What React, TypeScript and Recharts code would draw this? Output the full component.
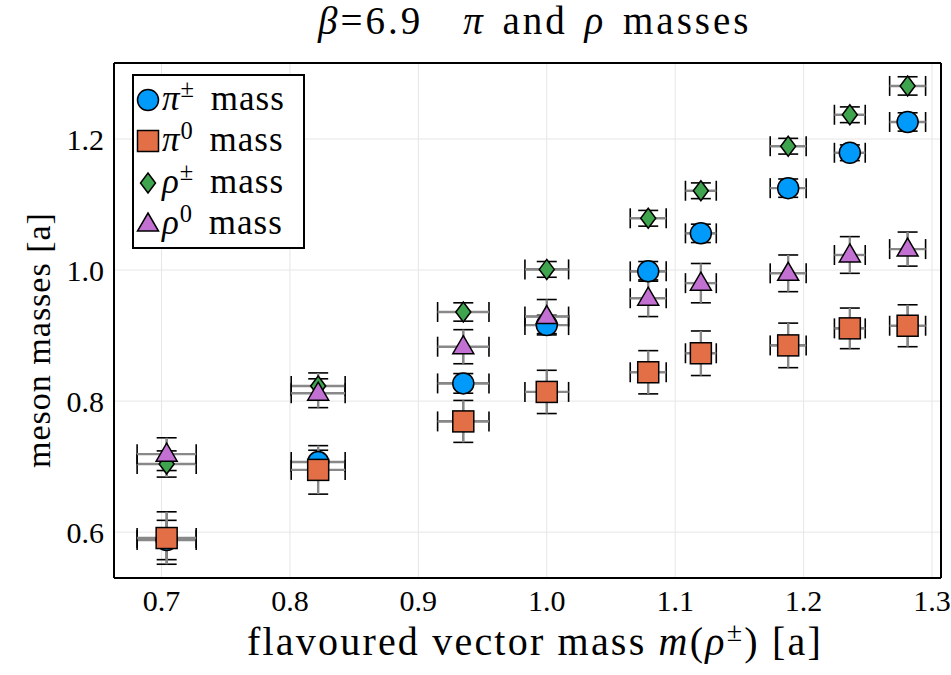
import React from 'react';
import { ScatterChart, Scatter, XAxis, YAxis, CartesianGrid, ErrorBar, Legend } from 'recharts';

// flavoured vector mass m(rho±) for each ensemble, with its uncertainty
const vectorMass = [0.704, 0.822, 0.935, 1.0, 1.079, 1.12, 1.188, 1.236, 1.281];
const vectorMassErr = [0.023, 0.021, 0.02, 0.017, 0.014, 0.012, 0.014, 0.012, 0.014];

const piCharged = [0.588, 0.707, 0.827, 0.916, 0.998, 1.056, 1.125, 1.179, 1.226];
const piChargedErr = [0.03, 0.018, 0.015, 0.015, 0.015, 0.014, 0.014, 0.012, 0.014];
const piNeutral = [0.591, 0.695, 0.769, 0.814, 0.844, 0.873, 0.885, 0.911, 0.915];
const piNeutralErr = [0.04, 0.037, 0.032, 0.033, 0.033, 0.034, 0.034, 0.031, 0.032];
const rhoCharged = [0.704, 0.823, 0.936, 1.001, 1.079, 1.121, 1.189, 1.237, 1.281];
const rhoChargedErr = [0.02, 0.02, 0.014, 0.012, 0.012, 0.012, 0.012, 0.012, 0.014];
const rhoNeutral = [0.719, 0.812, 0.883, 0.929, 0.957, 0.98, 0.995, 1.023, 1.032];
const rhoNeutralErr = [0.025, 0.022, 0.026, 0.026, 0.028, 0.03, 0.028, 0.028, 0.026];

const xTicks = [0.7, 0.8, 0.9, 1.0, 1.1, 1.2, 1.3];
const yTicks = [0.6, 0.8, 1.0, 1.2];
const xDomain = [0.663, 1.307];
const yDomain = [0.53, 1.316];

const FONT = '"Liberation Serif", "Times New Roman", serif';

const build = (vals: number[], errs: number[]) =>
  vectorMass.map((x, i) => ({ x, y: vals[i], ex: vectorMassErr[i], ey: errs[i] }));

const circle = (p: any) => <circle cx={p.cx} cy={p.cy} r={10.5} fill="#009AFA" stroke="#000" strokeWidth={1.5} />;
const square = (p: any) => (
  <rect x={p.cx - 10.5} y={p.cy - 10.5} width={21} height={21} fill="#E36F47" stroke="#000" strokeWidth={1.5} />
);
const diamond = (p: any) => (
  <polygon
    points={`${p.cx},${p.cy - 10} ${p.cx + 7.5},${p.cy} ${p.cx},${p.cy + 10} ${p.cx - 7.5},${p.cy}`}
    fill="#3EA44E"
    stroke="#000"
    strokeWidth={1.5}
  />
);
const triangle = (p: any) => (
  <polygon
    points={`${p.cx},${p.cy - 11} ${p.cx + 10.5},${p.cy + 7} ${p.cx - 10.5},${p.cy + 7}`}
    fill="#C271D2"
    stroke="#000"
    strokeWidth={1.5}
  />
);

const Sup = ({ children }: { children: React.ReactNode }) => (
  <span style={{ fontSize: '0.7em', position: 'relative', top: '-0.5em' }}>{children}</span>
);

const series = [
  { name: 'pic', data: build(piCharged, piChargedErr), shape: circle, sym: 'π', sup: '±' },
  { name: 'pi0', data: build(piNeutral, piNeutralErr), shape: square, sym: 'π', sup: '0' },
  { name: 'rhoc', data: build(rhoCharged, rhoChargedErr), shape: diamond, sym: 'ρ', sup: '±' },
  { name: 'rho0', data: build(rhoNeutral, rhoNeutralErr), shape: triangle, sym: 'ρ', sup: '0' },
];

// caps in black, then the grey bar drawn over the middle
const bars = (key: string, dir: 'x' | 'y') => [
  <ErrorBar key={key + dir + 'c'} dataKey={key} direction={dir} width={10} stroke="#000" strokeWidth={1.6} />,
  <ErrorBar key={key + dir + 'l'} dataKey={key} direction={dir} width={0} stroke="#888" strokeWidth={2.4} />,
];

const renderLegend = () => (
  <div
    style={{
      border: '2px solid #000',
      background: '#fff',
      width: 173,
      height: 175,
      padding: '3px 0 0 0',
      fontFamily: FONT,
      fontSize: 35,
      lineHeight: '41.5px',
      boxSizing: 'border-box',
      color: '#000',
    }}
  >
    {series.map((s) => (
      <div key={s.name} style={{ display: 'flex', alignItems: 'center', whiteSpace: 'nowrap', height: 41.5 }}>
        <svg width={28} height={28} style={{ flex: 'none' }}>
          {s.shape({ cx: 14, cy: 14 })}
        </svg>
        <span style={{ letterSpacing: 1, wordSpacing: 6 }}>
          <i>{s.sym}</i>
          <Sup>{s.sup}</Sup> mass
        </span>
      </div>
    ))}
  </div>
);

export default function App() {
  return (
    <div style={{ position: 'absolute', left: 0, top: 0, width: 951, height: 675, background: '#fff', fontFamily: FONT }}>
      <div
        style={{
          position: 'absolute',
          left: 318,
          top: 1,
          fontSize: 39,
          lineHeight: 1,
          whiteSpace: 'nowrap',
          letterSpacing: 3,
          wordSpacing: 4,
        }}
      >
        <i>β</i>=6.9
        <span style={{ display: 'inline-block', width: 40 }} />
        <i>π</i> and <i>ρ</i> masses
      </div>
      <ScatterChart width={951} height={675} margin={{ top: 63, right: 10, bottom: 0, left: 0 }}>
        <CartesianGrid stroke="#e6e6e6" strokeWidth={1} />
        <XAxis
          type="number"
          dataKey="x"
          domain={xDomain}
          allowDataOverflow
          ticks={xTicks}
          tickFormatter={(v: number) => v.toFixed(1)}
          height={97}
          tickLine={false}
          tickSize={0}
          tickMargin={12}
          axisLine={{ stroke: '#000', strokeWidth: 2 }}
          tick={{ fill: '#000', fontSize: 30, fontFamily: FONT }}
        />
        <XAxis xAxisId="bm" type="number" domain={xDomain} allowDataOverflow ticks={xTicks} mirror tick={false} tickSize={8} axisLine={false} tickLine={{ stroke: '#000', strokeWidth: 1.5 }} />
        <XAxis xAxisId="tm" orientation="top" type="number" domain={xDomain} allowDataOverflow ticks={xTicks} mirror tick={false} tickSize={8} axisLine={{ stroke: '#000', strokeWidth: 2 }} tickLine={{ stroke: '#000', strokeWidth: 1.5 }} />
        <YAxis
          type="number"
          dataKey="y"
          domain={yDomain}
          allowDataOverflow
          ticks={yTicks}
          tickFormatter={(v: number) => v.toFixed(1)}
          width={114}
          tickLine={false}
          tickSize={0}
          tickMargin={10}
          axisLine={{ stroke: '#000', strokeWidth: 2 }}
          tick={{ fill: '#000', fontSize: 30, fontFamily: FONT }}
        />
        <YAxis yAxisId="lm" type="number" domain={yDomain} allowDataOverflow ticks={yTicks} mirror tick={false} tickSize={8} axisLine={false} tickLine={{ stroke: '#000', strokeWidth: 1.5 }} />
        <YAxis yAxisId="rm" orientation="right" type="number" domain={yDomain} allowDataOverflow ticks={yTicks} mirror tick={false} tickSize={8} axisLine={{ stroke: '#000', strokeWidth: 2 }} tickLine={{ stroke: '#000', strokeWidth: 1.5 }} />
        {series.map((s) => (
          <Scatter key={s.name} name={s.name} data={s.data} shape={s.shape} isAnimationActive={false}>
            {bars('ex', 'x')}
            {bars('ey', 'y')}
          </Scatter>
        ))}
        <Legend
          content={renderLegend}
          layout="vertical"
          align="center"
          verticalAlign="middle"
          wrapperStyle={{ left: 132, top: 74, width: 173 }}
        />
      </ScatterChart>
      <div style={{ position: 'absolute', left: 247, top: 622, fontSize: 40, lineHeight: 1, whiteSpace: 'nowrap', letterSpacing: 2.2 }}>
        flavoured vector mass <i>m</i>(<i>ρ</i>
        <Sup>±</Sup>) [a]
      </div>
      <div
        style={{
          position: 'absolute',
          left: 39,
          top: 340,
          transform: 'translate(-50%, -50%) rotate(-90deg)',
          fontSize: 34,
          lineHeight: 1,
          letterSpacing: 1,
          whiteSpace: 'nowrap',
        }}
      >
        meson masses [a]
      </div>
    </div>
  );
}
